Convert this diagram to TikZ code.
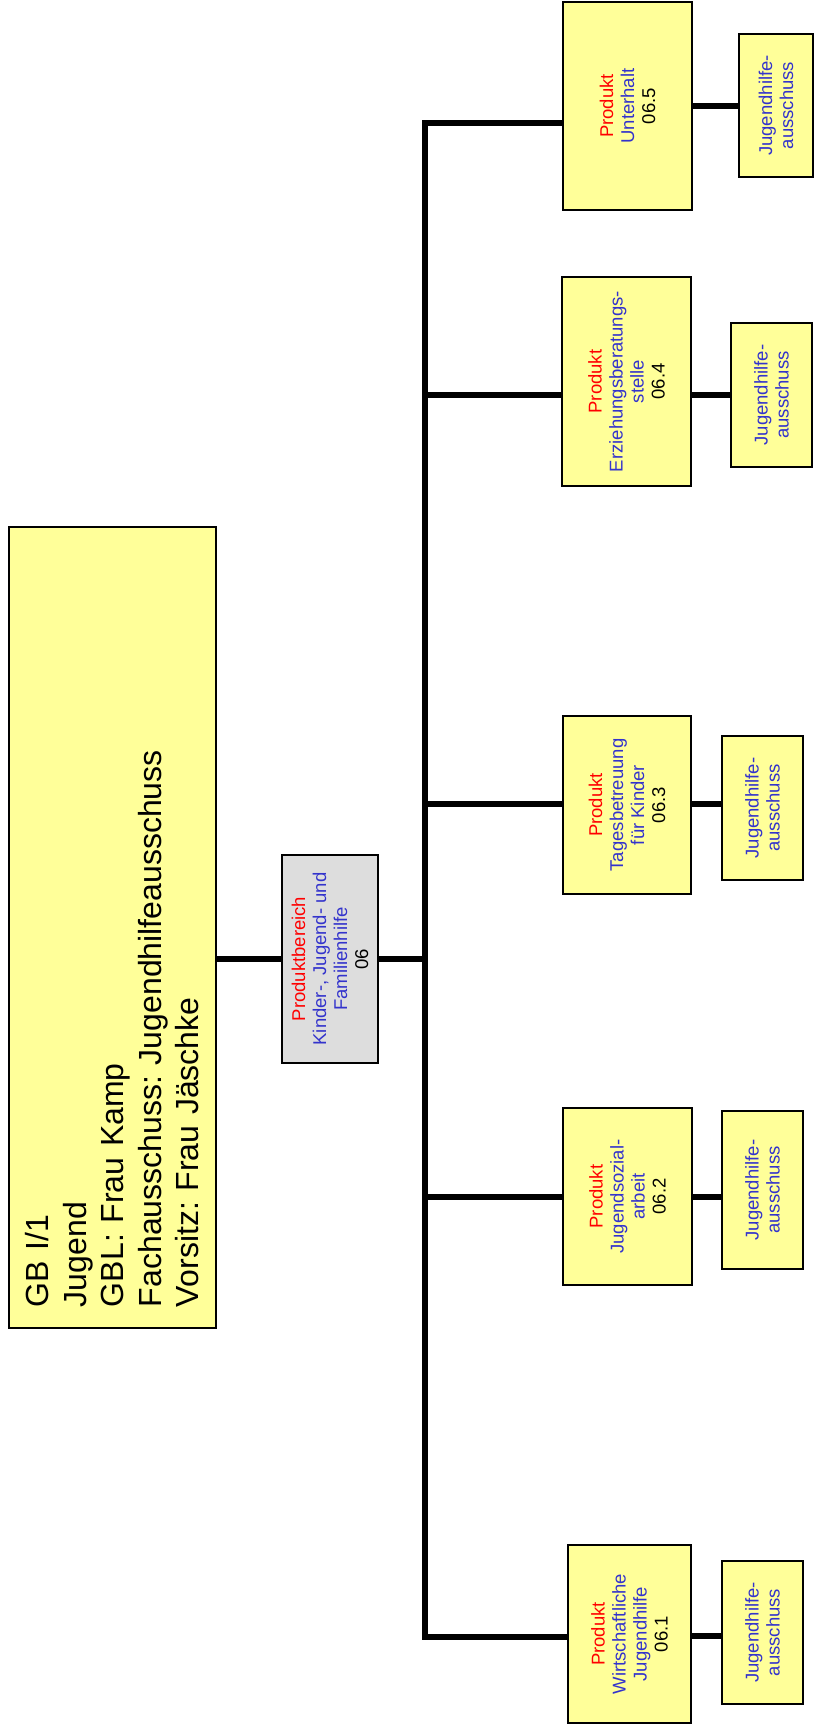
\documentclass[tikz,border=0pt]{standalone}
\usepackage{fontspec}
\setmainfont{Liberation Sans}
\usetikzlibrary{positioning,calc}
\definecolor{gelb}{HTML}{FFFF99}
\definecolor{grau}{HTML}{DDDDDD}
\definecolor{blautext}{HTML}{3333CC}
\tikzset{
    kasten/.style={draw=black, line width=1.5pt, rotate=90, align=center,
        inner sep=0pt, text=blautext, font=\fontsize{18.5}{21}\selectfont},
    groesse/.style 2 args={minimum height=#1, minimum width=#2},
    prodbox/.style={kasten, fill=gelb},
    ausschussbox/.style={kasten, fill=gelb},
    bereichbox/.style={kasten, fill=grau},
    gbbox/.style={kasten, fill=gelb, text=black, align=left, text width=759pt,
        inner xsep=21pt, font=\fontsize{32}{37.5}\selectfont},
    verbindung/.style={draw=black, line width=5.5pt}
}
\newcommand{\produkt}{\textcolor{red}{Produkt}}
\frenchspacing

\begin{document}
\begin{tikzpicture}[x=1pt, y=-1pt]
    \useasboundingbox (0,0) rectangle (814,1731);

    % Geschaeftsbereich und Produktbereich
    \node[gbbox, groesse={207}{801}] (gb) at (112.5,927.5)
        {GB I/1\\Jugend\\GBL: Frau Kamp\\Fachausschuss: Jugendhilfeausschuss\\Vorsitz: Frau J\"aschke};
    \node[bereichbox, groesse={96}{208}] (pb) at (330,959)
        {\textcolor{red}{Produktbereich}\\Kinder-, Jugend- und\\Familienhilfe\\\textcolor{black}{06}};

    % Produkte
    \node[prodbox, groesse={123}{178}] (p1) at (629.5,1634)
        {\produkt\\Wirtschaftliche\\Jugendhilfe\\\textcolor{black}{06.1}};
    \node[prodbox, groesse={129}{177}] (p2) at (627.5,1196.5)
        {\produkt\\Jugendsozial-\\arbeit\\\textcolor{black}{06.2}};
    \node[prodbox, groesse={128}{178}] (p3) at (627,805)
        {\produkt\\Tagesbetreuung\\f\"ur Kinder\\\textcolor{black}{06.3}};
    \node[prodbox, groesse={129}{209}] (p4) at (626.5,381.5)
        {\produkt\\Erziehungsberatungs-\\stelle\\\textcolor{black}{06.4}};
    \node[prodbox, groesse={129}{208}] (p5) at (627.5,106)
        {\produkt\\Unterhalt\\\textcolor{black}{06.5}};

    % Ausschuesse
    \node[ausschussbox, groesse={81}{143}] (a1) at (762.5,1632.5) {Jugendhilfe-\\ausschuss};
    \node[ausschussbox, groesse={81}{158}] (a2) at (762.5,1190) {Jugendhilfe-\\ausschuss};
    \node[ausschussbox, groesse={81}{144}] (a3) at (762.5,808) {Jugendhilfe-\\ausschuss};
    \node[ausschussbox, groesse={81}{144}] (a4) at (771.5,395) {Jugendhilfe-\\ausschuss};
    \node[ausschussbox, groesse={74}{143}] (a5) at (776,105.5) {Jugendhilfe-\\ausschuss};

    % Verbindungen
    \coordinate (bustop) at (425,123);
    \coordinate (busbot) at (425,1637);
    \draw[verbindung, line cap=rect] (bustop) -- (busbot);
    \draw[verbindung] (pb.north -| gb.south) -- (pb.north);
    \draw[verbindung] (pb.south) -- (pb.south -| bustop);
    \foreach \p/\a/\yb/\yc in {p1/a1/1637/1636, p2/a2/1197/1197, p3/a3/804/804,
                               p4/a4/395/395, p5/a5/123/106} {
        \coordinate (b\p) at (425,\yb);
        \coordinate (c\p) at (0,\yc);
        \draw[verbindung] (b\p) -- (b\p -| \p.north);
        \draw[verbindung] (\p.south |- c\p) -- (\a.north |- c\p);
    }
\end{tikzpicture}
\end{document}
